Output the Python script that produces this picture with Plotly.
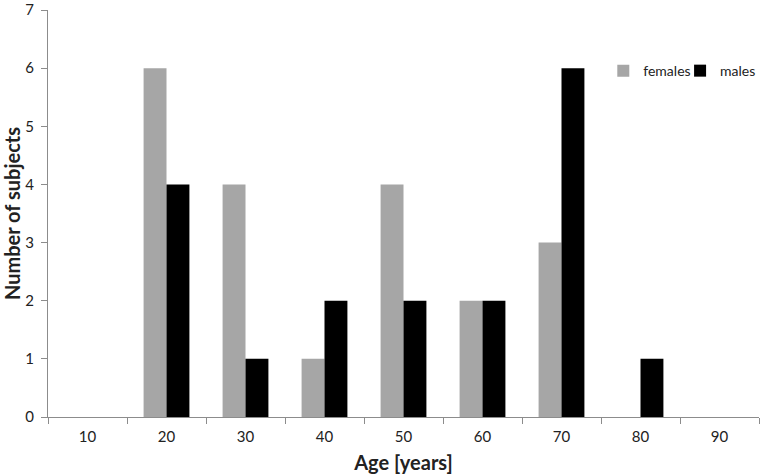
import plotly.graph_objects as go

ages = ['10', '20', '30', '40', '50', '60', '70', '80', '90']
females = [0, 6, 4, 1, 4, 2, 3, 0, 0]
males = [0, 4, 1, 2, 2, 2, 6, 1, 0]

fig = go.Figure()
fig.add_trace(go.Bar(x=ages, y=females, name='females', legend='legend',
                     marker_color='#a6a6a6', marker_line_width=0))
fig.add_trace(go.Bar(x=ages, y=males, name='males', legend='legend2',
                     marker_color='#000000', marker_line_width=0))

legend_style = dict(yanchor='middle', xanchor='left', bgcolor='rgba(0,0,0,0)',
                    font=dict(size=14), itemwidth=30)

fig.update_layout(
    width=761, height=476,
    margin=dict(l=48, r=2, t=10, b=59, autoexpand=False),
    barmode='group', bargap=0.42, bargroupgap=0,
    plot_bgcolor='white', paper_bgcolor='white',
    font=dict(family='Lato, Open Sans, sans-serif', size=15, color='#222222'),
    showlegend=True,
    legend=dict(x=0.781, y=0.85, **legend_style),
    legend2=dict(x=0.889, y=0.85, **legend_style),
    xaxis=dict(type='category', range=[-0.5, 8.5], showline=True, linecolor='#8c8c8c', linewidth=1,
               ticks='outside', tickson='boundaries', ticklen=6, tickcolor='#8c8c8c',
               ticklabelstandoff=6, showgrid=False, automargin=False,
               title=dict(text='<b>Age [years]</b>', font=dict(size=20), standoff=11)),
    yaxis=dict(range=[0, 7], dtick=1, showline=True, linecolor='#8c8c8c', linewidth=1,
               ticks='outside', ticklen=6, tickcolor='#8c8c8c', ticklabelstandoff=4,
               ticklabeloverflow='allow',
               showgrid=False, zeroline=False, automargin=False,
               title=dict(text='<b>Number of subjects</b>', font=dict(size=20), standoff=18)),
)

# drop the default body margin so the figure fills the window exactly
fig.write_html("out.html", config={'displayModeBar': False},
               post_script="document.body.style.margin = '0';")
